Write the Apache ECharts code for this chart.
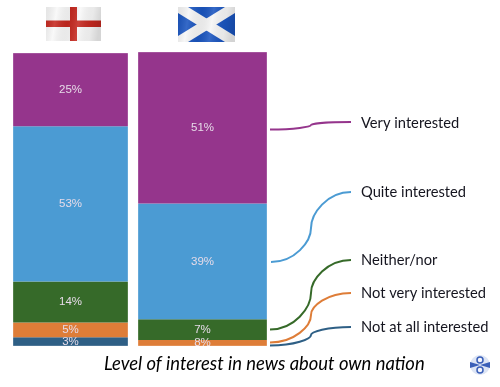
<!DOCTYPE html>
<html>
<head>
<meta charset="utf-8">
<title>Level of interest in news about own nation</title>
<script src="https://cdn.jsdelivr.net/npm/echarts@6/dist/echarts.min.js"></script>
<style>
    html, body { margin: 0; padding: 0; background: #fff; }
    #main { width: 500px; height: 387px; }
</style>
</head>
<body>
<div id="main"></div>
<script>
// bottom of the stack first
var categories = ['Not at all interested', 'Not very interested', 'Neither/nor', 'Quite interested', 'Very interested'];
var colors = ['#2e5f85', '#de7d38', '#366a29', '#4b9bd3', '#95358c'];

var englandValues = [3, 5, 14, 53, 25];
var englandLabels = ['3%', '5%', '14%', '53%', '25%'];

// no visible navy block on the Scotland bar, orange is about 2 high
var scotlandValues = [0, 2, 7, 39, 51];
var scotlandLabels = ['', '8%', '7%', '39%', '51%'];

var chart = echarts.init(document.getElementById('main'));

function barSeries(values, labels, axisIndex) {
    return categories.map(function (name, i) {
        return {
            name: name,
            type: 'bar',
            stack: 'nation' + axisIndex,
            xAxisIndex: axisIndex,
            yAxisIndex: axisIndex,
            barWidth: '100%',
            silent: true,
            data: [values[i]],
            itemStyle: { color: colors[i] },
            label: {
                show: labels[i] !== '',
                position: 'inside',
                formatter: labels[i],
                color: '#e6dbe8',
                fontFamily: 'Liberation Sans',
                fontSize: 11.5
            }
        };
    });
}

// S shaped leader from the bar to its legend text
function leader(color, x0, y0, xm, ym, x1, y1) {
    var style = { stroke: color, lineWidth: 2, fill: null };
    return [{
        type: 'bezierCurve',
        z: 10,
        shape: { x1: x0, y1: y0, x2: xm, y2: ym, cpx1: x0 + (xm - x0) * 0.6, cpy1: y0, cpx2: xm, cpy2: ym + (y0 - ym) * 0.4 },
        style: style
    }, {
        type: 'bezierCurve',
        z: 10,
        shape: { x1: xm, y1: ym, x2: x1, y2: y1, cpx1: xm, cpy1: ym + (y1 - ym) * 0.4, cpx2: xm + (x1 - xm) * 0.4, cpy2: y1 },
        style: style
    }];
}

function legendText(name, y) {
    return {
        type: 'text',
        z: 10,
        x: 361,
        y: y,
        style: { text: name, fill: '#15151f', font: '14.7px Lato', textVerticalAlign: 'middle' }
    };
}

var foldShade = {
    type: 'linear', x: 0, y: 0, x2: 1, y2: 0.25,
    colorStops: [
        { offset: 0, color: 'rgba(0,0,0,0.08)' },
        { offset: 0.2, color: 'rgba(255,255,255,0.12)' },
        { offset: 0.42, color: 'rgba(0,0,0,0.06)' },
        { offset: 0.62, color: 'rgba(255,255,255,0.12)' },
        { offset: 0.85, color: 'rgba(0,0,0,0.06)' },
        { offset: 1, color: 'rgba(0,0,0,0.14)' }
    ]
};

var flagEngland = [
    { type: 'rect', shape: { x: 46, y: 7, width: 55, height: 34 }, style: { fill: '#f8f8f8' } },
    { type: 'rect', shape: { x: 70, y: 7, width: 7, height: 34 }, style: { fill: '#c5281f' } },
    { type: 'rect', shape: { x: 46, y: 20.5, width: 55, height: 6.5 }, style: { fill: '#c5281f' } },
    { type: 'rect', shape: { x: 46, y: 7, width: 55, height: 34 }, style: { fill: foldShade } }
];

var flagScotland = [
    { type: 'rect', shape: { x: 178, y: 7, width: 57, height: 35 }, style: { fill: '#1a55c0' } },
    { type: 'polygon', shape: { points: [[178, 7], [188, 7], [235, 36], [235, 42], [225, 42], [178, 13]] }, style: { fill: '#f6f6f6' } },
    { type: 'polygon', shape: { points: [[235, 7], [225, 7], [178, 36], [178, 42], [188, 42], [235, 13]] }, style: { fill: '#f6f6f6' } },
    { type: 'rect', shape: { x: 178, y: 7, width: 57, height: 35 }, style: { fill: foldShade } }
];

var logo = [
    { type: 'circle', shape: { cx: 480, cy: 365, r: 10 }, style: { fill: '#dde5f5' } },
    { type: 'polygon', shape: { points: [[470, 362], [480, 365], [470, 368]] }, style: { fill: '#3a5fb8' } },
    { type: 'polygon', shape: { points: [[490, 362], [480, 365], [490, 368]] }, style: { fill: '#3a5fb8' } },
    { type: 'circle', shape: { cx: 480, cy: 360, r: 3 }, style: { fill: '#f4f6fc', stroke: '#3a5fb8', lineWidth: 1.5 } },
    { type: 'circle', shape: { cx: 480, cy: 370, r: 3 }, style: { fill: '#f4f6fc', stroke: '#3a5fb8', lineWidth: 1.5 } }
];

// soft pale edge round each bar
var barEdges = [
    { type: 'rect', z: 6, shape: { x: 13, y: 53, width: 115, height: 293 }, style: { fill: null, stroke: 'rgba(255,255,255,0.3)', lineWidth: 1 } },
    { type: 'rect', z: 6, shape: { x: 138, y: 52, width: 129, height: 294 }, style: { fill: null, stroke: 'rgba(255,255,255,0.3)', lineWidth: 1 } }
];

var elements = [].concat(
    flagEngland,
    flagScotland,
    // the lowest labels get cut off at the foot of the bars
    [{ type: 'rect', z: 5, shape: { x: 0, y: 346.5, width: 280, height: 6 }, style: { fill: '#fff' } }],
    barEdges,
    leader(colors[4], 270, 129.5, 311, 125, 351, 122),
    leader(colors[3], 271, 262, 311, 228, 351, 192),
    leader(colors[2], 270, 329.5, 311, 293, 351, 260),
    leader(colors[1], 270, 342.5, 311, 315, 351, 293),
    leader(colors[0], 270, 345.5, 311, 335, 351, 327),
    legendText(categories[4], 123),
    legendText(categories[3], 192),
    legendText(categories[2], 260),
    legendText(categories[1], 293),
    legendText(categories[0], 327),
    [{
        type: 'text',
        z: 10,
        x: 104,
        y: 364,
        style: { text: 'Level of interest in news about own nation', fill: '#000', font: 'italic 18.4px Lato', textVerticalAlign: 'middle' }
    }],
    logo
);

var option = {
    animation: false,
    backgroundColor: '#fff',
    grid: [
        { left: 13, top: 53, width: 115, height: 293 },
        { left: 138, top: 52, width: 129, height: 294 }
    ],
    xAxis: [
        { type: 'category', gridIndex: 0, data: ['England'], show: false },
        { type: 'category', gridIndex: 1, data: ['Scotland'], show: false }
    ],
    yAxis: [
        { type: 'value', gridIndex: 0, min: 0, max: 100, show: false },
        { type: 'value', gridIndex: 1, min: 0, max: 99, show: false }
    ],
    series: barSeries(englandValues, englandLabels, 0).concat(barSeries(scotlandValues, scotlandLabels, 1)),
    graphic: { elements: elements }
};

chart.setOption(option);
</script>
</body>
</html>
